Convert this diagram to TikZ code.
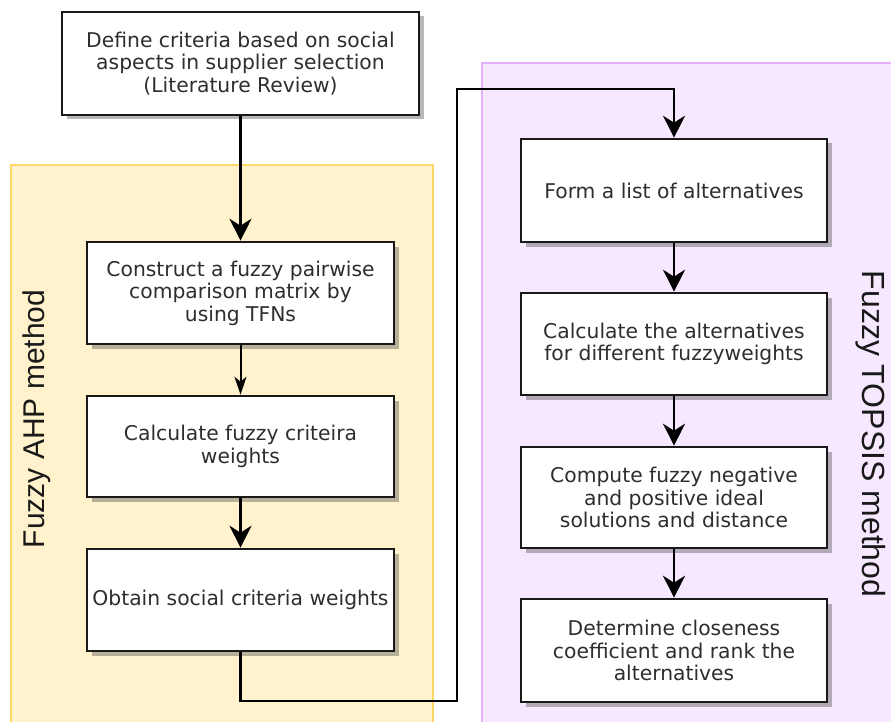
\documentclass[tikz,border=0pt]{standalone}
\usepackage{fontspec}
\setmainfont{DejaVu Sans}
\newfontfamily\labelfont{Liberation Sans}
\usetikzlibrary{arrows.meta,shadows}
\definecolor{yelfill}{HTML}{FFF2CC}
\definecolor{yeldraw}{HTML}{FFD966}
\definecolor{purfill}{HTML}{F6E8FF}
\definecolor{purdraw}{HTML}{E6B0FF}
\definecolor{txtgray}{HTML}{2E2E2E}
\tikzset{
  stepbox/.style={draw=black!90, line width=2.6pt, fill=white, minimum width=307pt,
    inner sep=0pt, align=center, text=txtgray,
    font=\fontsize{20.3pt}{22.5pt}\selectfont,
    drop shadow={shadow xshift=4.5pt, shadow yshift=-4.5pt, opacity=0.4, fill=black!70}},
  bigarr/.style={line width=2.2pt, draw=black, -{Stealth[length=22pt,width=22pt,inset=7pt]}},
  smallarr/.style={line width=2pt, draw=black, -{Stealth[length=18pt,width=12pt,inset=5pt]}},
  panel/.style={line width=1.5pt},
  sidelabel/.style={font=\labelfont\fontsize{30pt}{32pt}\selectfont, text=black!90, inner sep=0pt}
}
\begin{document}
\begin{tikzpicture}[x=1pt,y=-1pt]
\useasboundingbox (0,0) rectangle (891,722);
% panels
\path[panel, fill=yelfill, draw=yeldraw] (11,165) rectangle (433,730);
\path[panel, fill=purfill, draw=purdraw] (482,63) rectangle (900,730);
\node[sidelabel, rotate=90] (ahp) at (37,419) {Fuzzy AHP method};
\node[sidelabel, rotate=-90, font=\labelfont\fontsize{32pt}{34pt}\selectfont] (topsis) at (871,434) {Fuzzy TOPSIS method};
% boxes
\node[stepbox, minimum width=357pt, minimum height=103pt] (top) at (240.5,63.5)
  {Define criteria based on social\\aspects in supplier selection\\(Literature Review)};
\node[stepbox, minimum height=102pt] (l1) at (240.5,293)
  {Construct a fuzzy pairwise\\comparison matrix by\\using TFNs};
\node[stepbox, minimum height=101pt] (l2) at (240.5,446.5)
  {Calculate fuzzy criteira\\weights};
\node[stepbox, minimum height=102pt] (l3) at (240.5,600)
  {Obtain social criteria weights};
\node[stepbox, minimum width=306pt, minimum height=103pt] (r1) at (674,190.5)
  {Form a list of alternatives};
\node[stepbox, minimum width=306pt, minimum height=102pt] (r2) at (674,344)
  {Calculate the alternatives\\for different fuzzyweights};
\node[stepbox, minimum width=306pt, minimum height=101pt] (r3) at (674,497.5)
  {Compute fuzzy negative\\and positive ideal\\solutions and distance};
\node[stepbox, minimum width=306pt, minimum height=103pt] (r4) at (674,650.5)
  {Determine closeness\\coefficient and rank the\\alternatives};
% connectors
\coordinate (c1) at (240.5,701);
\coordinate (c2) at (457,701);
\coordinate (c3) at (457,89);
\coordinate (c4) at (674,89);
\draw[bigarr] (top) -- (l1);
\draw[smallarr] (l1) -- (l2);
\draw[bigarr] (l2) -- (l3);
\draw[bigarr] (l3.south) -- (c1) -- (c2) -- (c3) -- (c4) -- (r1.north);
\draw[bigarr] (r1) -- (r2);
\draw[bigarr] (r2) -- (r3);
\draw[bigarr] (r3) -- (r4);
\end{tikzpicture}
\end{document}
